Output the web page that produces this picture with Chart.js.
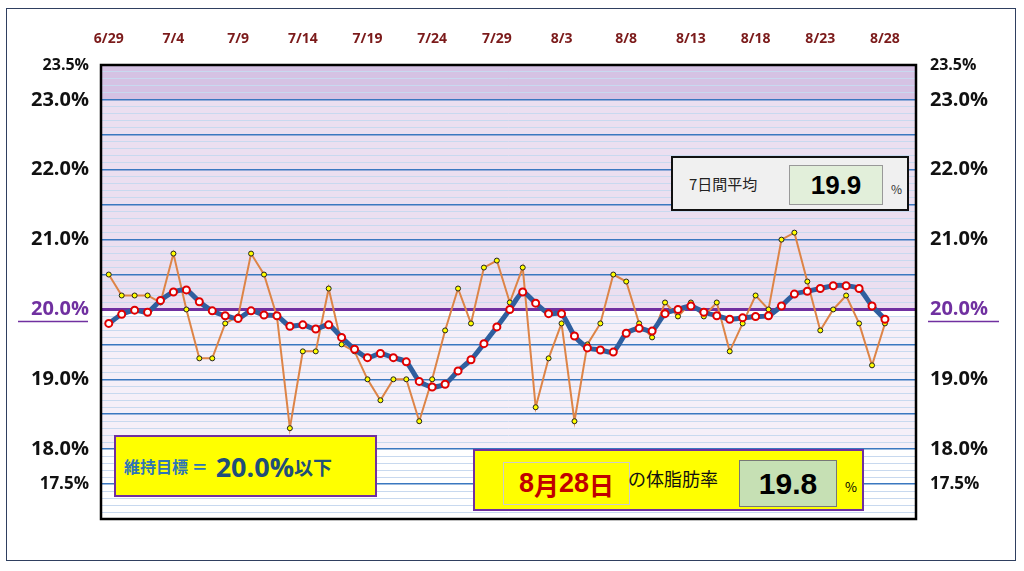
<!DOCTYPE html>
<html lang="ja">
<head>
<meta charset="UTF-8" />
<title>体脂肪率</title>
<script src="https://cdn.jsdelivr.net/npm/chart.js"></script>
<style>
    body { margin: 0; background: #fff; font-family: "Noto Sans CJK JP", sans-serif; }
    .wrap { position: relative; width: 1024px; height: 571px; }
    .frame { position: absolute; left: 6px; top: 8px; width: 1010px; height: 553px; border: 1.5px solid #2f3f60; box-sizing: border-box; }
    canvas { position: absolute; left: 0; top: 0; }
    .box { position: absolute; box-sizing: border-box; display: flex; align-items: center; }
    .avg { left: 671px; top: 156px; width: 238px; height: 55px; background: #f0f0f0; border: 2.5px solid #111; }
    .avg .lbl { position: absolute; left: 16px; font-size: 15px; color: #222; }
    .avg .val { position: absolute; left: 116px; top: 7px; width: 92px; height: 38px; background: #e2efda; border: 1px solid #999;
        font: bold 26px "Liberation Sans Narrow", "Liberation Sans", sans-serif; display: flex; align-items: center; justify-content: center; }
    .avg .pct { position: absolute; left: 218px; top: 22px; font-size: 12px; color: #333; }
    .goal { left: 114px; top: 435px; width: 263px; height: 62px; background: #ffff00; border: 2.5px solid #7030a0; padding-left: 8px; color: #2e75b6; font-weight: bold; }
    .goal .a { font-size: 16px; }
    .goal .b { font: bold 27px "Open Sans", sans-serif; color: #1f4e79; margin-left: 8px; }
    .goal .c { font-size: 19px; color: #1f4e79; }
    .today { left: 473px; top: 449px; width: 391px; height: 62px; background: #ffff00; border: 2.5px solid #7030a0; }
    .today .d { position: absolute; left: 28px; top: 11px; width: 125px; height: 41px; border: 1px solid #ccc; color: #c00000;
        font: bold 27px "Liberation Sans Narrow", "Liberation Sans", sans-serif; display: flex; align-items: center; justify-content: center; }
    .today .d small { font-family: "Noto Sans CJK JP"; font-size: 25px; font-weight: bold; }
    .today .t { position: absolute; left: 153px; top: 14px; font-size: 18px; color: #111; }
    .today .v { position: absolute; left: 264px; top: 9px; width: 96px; height: 45px; background: #c6e0b4; border: 1px solid #777;
        font: bold 30px "Liberation Sans Narrow", "Liberation Sans", sans-serif; display: flex; align-items: center; justify-content: center; }
    .today .p { position: absolute; left: 370px; top: 26px; font-size: 13px; }
</style>
</head>
<body>
<div class="wrap">
    <div class="frame"></div>
    <canvas id="chart" width="1024" height="571"></canvas>

    <div class="box avg">
        <span class="lbl">7日間平均</span>
        <span class="val">19.9</span>
        <span class="pct">%</span>
    </div>
    <div class="box goal">
        <span class="a">維持目標 ＝</span><span class="b">20.0%</span><span class="c">以下</span>
    </div>
    <div class="box today">
        <span class="d">8<small>月</small>28<small>日</small></span>
        <span class="t">の体脂肪率</span>
        <span class="v">19.8</span>
        <span class="p">%</span>
    </div>
</div>

<script>
// 6/29 〜 8/28 の日別データ
const startDate = new Date(2020, 5, 29);
const dailyValues = [
    20.5, 20.2, 20.2, 20.2, 20.1, 20.8, 20.0, 19.3, 19.3, 19.8,
    19.9, 20.8, 20.5, 19.9, 18.3, 19.4, 19.4, 20.3, 19.5, 19.4,
    19.0, 18.7, 19.0, 19.0, 18.4, 19.0, 19.7, 20.3, 19.8, 20.6,
    20.7, 20.1, 20.6, 18.6, 19.3, 19.8, 18.4, 19.5, 19.8, 20.5,
    20.4, 19.8, 19.6, 20.1, 19.9, 20.1, 19.9, 20.1, 19.4, 19.8,
    20.2, 20.0, 21.0, 21.1, 20.4, 19.7, 20.0, 20.2, 19.8, 19.2,
    19.8
];
const avgValues = [
    19.80, 19.93, 19.99, 19.96, 20.13, 20.25, 20.28, 20.11, 19.98, 19.91,
    19.87, 19.98, 19.92, 19.91, 19.76, 19.78, 19.72, 19.78, 19.60, 19.43,
    19.31, 19.37, 19.31, 19.25, 18.97, 18.89, 18.93, 19.12, 19.28, 19.51,
    19.75, 20.00, 20.25, 20.09, 19.94, 19.94, 19.62, 19.45, 19.42, 19.39,
    19.66, 19.73, 19.69, 19.94, 20.00, 20.05, 19.96, 19.91, 19.86, 19.88,
    19.90, 19.91, 20.05, 20.22, 20.26, 20.30, 20.34, 20.34, 20.30, 20.05,
    19.86
];
const yLabels = { '23.5': 16, '23': 20, '22': 20, '21': 20, '20': 20, '19': 20, '18': 20, '17.5': 17 };
const goalValue = 20.0;

const dateLabel = i => {
    const d = new Date(startDate);
    d.setDate(d.getDate() + i);
    return (d.getMonth() + 1) + '/' + d.getDate();
};
const toPoints = arr => arr.map((v, i) => ({ x: i, y: v }));
const tickVal = ctx => (ctx.tick ? ctx.tick.value : 0);
const isMajor = v => Math.round(v * 10) % 5 === 0;

const bgPlugin = {
    id: 'bands',
    beforeDraw(chart) {
        const { ctx, chartArea: a, scales: { y } } = chart;
        const band = (from, to, color) => {
            const t = y.getPixelForValue(to), b = y.getPixelForValue(from);
            ctx.fillStyle = color;
            ctx.fillRect(a.left, t, a.right - a.left, b - t);
        };
        ctx.save();
        band(17.0, 18.0, '#ffffff');
        band(18.0, 20.0, '#f5eff8');
        band(19.9, 20.0, '#ffffff');
        band(20.0, 23.0, '#ebdff0');
        band(23.0, 23.5, '#d5c2e3');
        ctx.restore();
    },
    beforeDatasetsDraw(chart) {
        const { ctx, chartArea: a, scales: { y } } = chart;
        const p = y.getPixelForValue(goalValue);
        ctx.save();
        ctx.strokeStyle = '#7030a0';
        ctx.lineWidth = 3;
        ctx.beginPath();
        ctx.moveTo(a.left, p);
        ctx.lineTo(a.right, p);
        ctx.stroke();
        ctx.strokeStyle = '#000';
        ctx.lineWidth = 2.5;
        ctx.strokeRect(a.left, a.top, a.right - a.left, a.bottom - a.top);
        ctx.restore();
    },
    afterDraw(chart) {
        // 20.0% の下線
        const { ctx, scales: { y } } = chart;
        const p = y.getPixelForValue(goalValue) + 12;
        ctx.save();
        ctx.strokeStyle = '#7030a0';
        ctx.lineWidth = 1.5;
        ctx.beginPath();
        ctx.moveTo(18, p); ctx.lineTo(88, p);
        ctx.moveTo(928, p); ctx.lineTo(999, p);
        ctx.stroke();
        ctx.restore();
    }
};

const yTicks = scale => {
    scale.ticks = [];
    for (let i = 170; i <= 235; i++) scale.ticks.push({ value: i / 10 });
};
const yAxis = (position, width, pad) => ({
    position,
    min: 17.0,
    max: 23.5,
    afterBuildTicks: yTicks,
    afterFit: s => { s.width = width; },
    border: { display: false },
    grid: {
        drawTicks: false,
        drawOnChartArea: position === 'left',
        lineWidth: ctx => (isMajor(tickVal(ctx)) ? 1.5 : 1),
        color: ctx => (isMajor(tickVal(ctx)) ? '#3a78c0' : '#c8d9ef')
    },
    ticks: {
        autoSkip: false,
        padding: pad,
        callback: v => (yLabels[String(+v.toFixed(1))] ? v.toFixed(1) + '%' : ''),
        color: ctx => (Math.abs(tickVal(ctx) - goalValue) < 0.01 ? '#7030a0' : '#111'),
        font: ctx => ({ family: '"Open Sans", sans-serif', weight: 'bold',
            size: yLabels[String(+tickVal(ctx).toFixed(1))] || 12 })
    }
});

new Chart(document.getElementById('chart'), {
    type: 'line',
    data: {
        datasets: [{
            label: '7日間平均',
            data: toPoints(avgValues),
            borderColor: '#2f5f9f',
            borderWidth: 5,
            pointRadius: 3.5,
            pointBorderWidth: 2,
            pointBorderColor: '#e00000',
            pointBackgroundColor: '#ffffff',
            tension: 0.2
        }, {
            label: '体脂肪率',
            data: toPoints(dailyValues),
            borderColor: '#dd8447',
            borderWidth: 2,
            pointRadius: 2.5,
            pointBorderWidth: 1,
            pointBorderColor: '#222',
            pointBackgroundColor: '#ffff00',
            tension: 0
        }]
    },
    options: {
        responsive: false,
        animation: false,
        layout: { padding: { top: 0, bottom: 52, left: 0, right: 0 } },
        plugins: { legend: { display: false }, tooltip: { enabled: false } },
        scales: {
            x: {
                type: 'linear',
                position: 'top',
                min: -0.6,
                max: 62.4,
                afterBuildTicks: s => {
                    s.ticks = [];
                    for (let i = 0; i <= 60; i += 5) s.ticks.push({ value: i });
                },
                afterFit: s => { s.height = 65; },
                border: { display: false },
                grid: { display: false },
                ticks: {
                    padding: 10,
                    maxRotation: 0,
                    color: '#7b1a1a',
                    font: { family: '"Open Sans", sans-serif', weight: 'bold', size: 14 },
                    callback: v => dateLabel(v)
                }
            },
            y: yAxis('left', 101, 12),
            y2: yAxis('right', 108, 14)
        }
    },
    plugins: [bgPlugin]
});
</script>
</body>
</html>
